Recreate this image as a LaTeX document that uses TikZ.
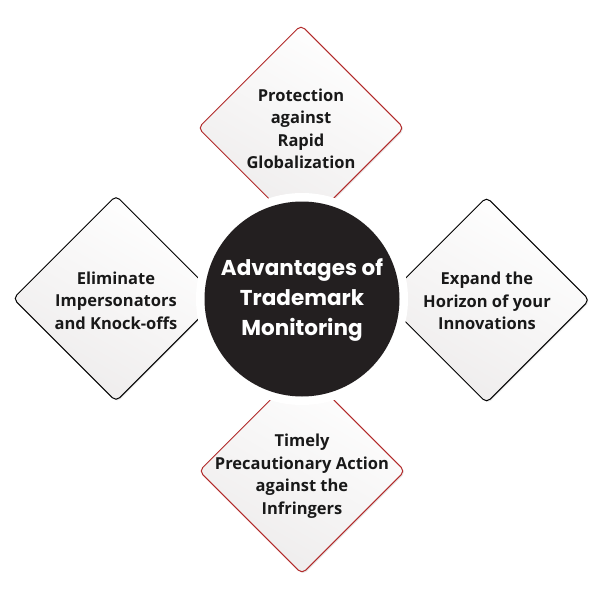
\documentclass[tikz,border=0pt]{standalone}
\usepackage{fontspec}
\setmainfont{Open Sans}
\newfontfamily\centerfont{Poppins}
\usetikzlibrary{shapes.geometric,shadows}
\definecolor{redline}{RGB}{178,42,42}
\definecolor{darkcirc}{RGB}{35,31,32}
\definecolor{dfill}{RGB}{238,236,236}
\tikzset{
  dia/.style={shape=diamond, aspect=1, minimum width=206pt, minimum height=206pt,
    inner sep=0pt, rounded corners=5pt, line width=1pt,
    top color=white, bottom color=dfill, shading angle=-30,
    drop shadow={shadow xshift=1.2pt, shadow yshift=-1.2pt, opacity=0.18}},
  reddia/.style={dia, draw=redline},
  blackdia/.style={dia, draw=black},
  dtext/.style={align=center, font=\bfseries\fontsize{16.5}{22.5}\selectfont, text=black!90},
  ctext/.style={align=center, font=\centerfont\bfseries\fontsize{21.5}{30}\selectfont, text=white}
}
\begin{document}
\begin{tikzpicture}[x=1pt,y=-1pt]
\useasboundingbox (0,0) rectangle (602,602);
\fill[white] (0,0) rectangle (602,602);
% diamonds
\node[reddia] (dtop) at (301,128) {};
\node[reddia] (dbot) at (302,471) {};
\node[blackdia] (dleft) at (116,298.5) {};
\node[blackdia] (dright) at (486.5,300) {};
% white gap ring and centre circle
\node[circle, fill=white, minimum size=212pt, inner sep=0pt] (ring) at (302,299) {};
\node[circle, fill=darkcirc, minimum size=195pt, inner sep=0pt] (hub) at (302,299) {};
% texts
\node[ctext] (htext) at (302,300) {Advantages of\\Trademark\\Monitoring};
\node[dtext] (ttop) at (301,129) {Protection\\against\\Rapid\\Globalization};
\node[dtext] (tleft) at (116,300.5) {Eliminate\\Impersonators\\and Knock-offs};
\node[dtext] (tright) at (487,301) {Expand the\\Horizon of your\\Innovations};
\node[dtext] (tbot) at (302,476) {Timely\\Precautionary Action\\against the\\Infringers};
\end{tikzpicture}
\end{document}
